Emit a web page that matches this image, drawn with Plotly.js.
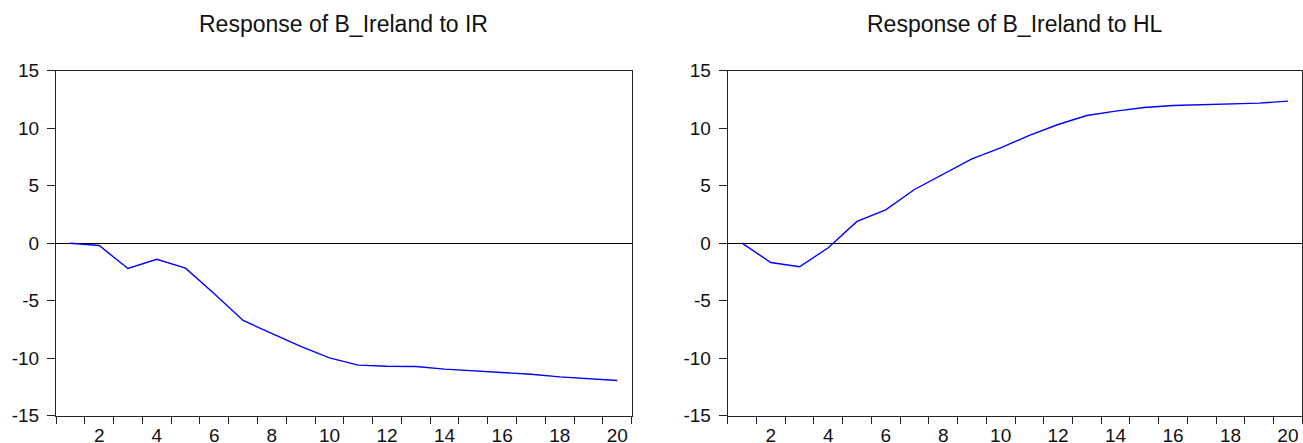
<!DOCTYPE html>
<html>
<head>
<meta charset="utf-8">
<script src="https://cdn.plot.ly/plotly-3.0.1.min.js"></script>
<style>
html,body{margin:0;padding:0;background:#fff;}
#chart{width:1303px;height:443px;}
</style>
</head>
<body>
<div id="chart"></div>
<script>
// Periods 1..20
const periods = [1,2,3,4,5,6,7,8,9,10,11,12,13,14,15,16,17,18,19,20];
// Response of B_Ireland to IR
const responseIR = [0.0,-0.2,-2.2,-1.4,-2.17,-4.4,-6.72,-7.85,-8.98,-9.97,-10.6,-10.7,-10.72,-10.95,-11.1,-11.2,-11.39,-11.62,-11.77,-11.94];
// Response of B_Ireland to HL
const responseHL = [0.0,-1.68,-2.05,-0.4,1.89,2.9,4.67,6.03,7.34,8.29,9.37,10.32,11.1,11.48,11.8,11.97,12.06,12.09,12.18,12.35];
const xTickVals = [2,4,6,8,10,12,14,16,18,20];
const xTickText = ["2","4","6","8","10","12","14","16","18","20"];
const yTickVals = [-15,-10,-5,0,5,10,15];
const yTickText = ["-15","-10","-5","0","5","10","15"];
const titles = ["Response of B_Ireland to IR","Response of B_Ireland to HL"];

const W = 1303, H = 443;
const FONT = "Liberation Sans, Arial, sans-serif";
const TXT = "#111";
const AX = "#222";

function xAxis(domain){
  return {
    domain: domain,
    range: [0.5, 20.5],
    tickmode: "array",
    tickvals: xTickVals,
    ticktext: xTickText,
    ticks: "",
    ticklabelstandoff: 2,
    showgrid: false,
    zeroline: false,
    showline: true,
    linecolor: AX,
    linewidth: 1,
    mirror: true,
    tickfont: {family: FONT, size: 19, color: TXT},
    minor: {tick0: 0.5, dtick: 1, ticks: "outside", ticklen: 7, tickcolor: AX, tickwidth: 1, showgrid: false},
    fixedrange: true
  };
}
function yAxis(anchor){
  return {
    domain: [27.3/H, 1 - 70.7/H],
    anchor: anchor,
    range: [-15, 15],
    tickmode: "array",
    tickvals: yTickVals,
    ticktext: yTickText,
    ticks: "outside",
    ticklen: 8,
    ticklabelstandoff: 4,
    tickcolor: AX,
    tickwidth: 1,
    showgrid: false,
    zeroline: true,
    zerolinecolor: "#000",
    zerolinewidth: 1,
    showline: true,
    linecolor: AX,
    linewidth: 1,
    mirror: true,
    tickfont: {family: FONT, size: 19, color: TXT},
    fixedrange: true
  };
}

const d1 = [56/W, 631.7/W];
const d2 = [727.7/W, 1302.3/W];

const traces = [
  {x: periods, y: responseIR, type: "scatter", mode: "lines", line: {color: "#0000ff", width: 1.4}, xaxis: "x", yaxis: "y", hoverinfo: "skip"},
  {x: periods, y: responseHL, type: "scatter", mode: "lines", line: {color: "#0000ff", width: 1.4}, xaxis: "x2", yaxis: "y2", hoverinfo: "skip"}
];

const layout = {
  width: W, height: H,
  margin: {l: 0, r: 0, t: 0, b: 0},
  paper_bgcolor: "#fff",
  plot_bgcolor: "#fff",
  showlegend: false,
  xaxis: Object.assign(xAxis(d1), {anchor: "y"}),
  yaxis: yAxis("x"),
  xaxis2: Object.assign(xAxis(d2), {anchor: "y2"}),
  yaxis2: yAxis("x2"),
  annotations: [
    {text: titles[0], xref: "paper", yref: "paper", x: (d1[0]+d1[1])/2, y: 1 - 24/H, xanchor: "center", yanchor: "middle", showarrow: false, font: {family: FONT, size: 23, color: TXT}},
    {text: titles[1], xref: "paper", yref: "paper", x: (d2[0]+d2[1])/2, y: 1 - 24/H, xanchor: "center", yanchor: "middle", showarrow: false, font: {family: FONT, size: 23, color: TXT}}
  ]
};

Plotly.newPlot("chart", traces, layout, {displayModeBar: false, staticPlot: true});
</script>
</body>
</html>
